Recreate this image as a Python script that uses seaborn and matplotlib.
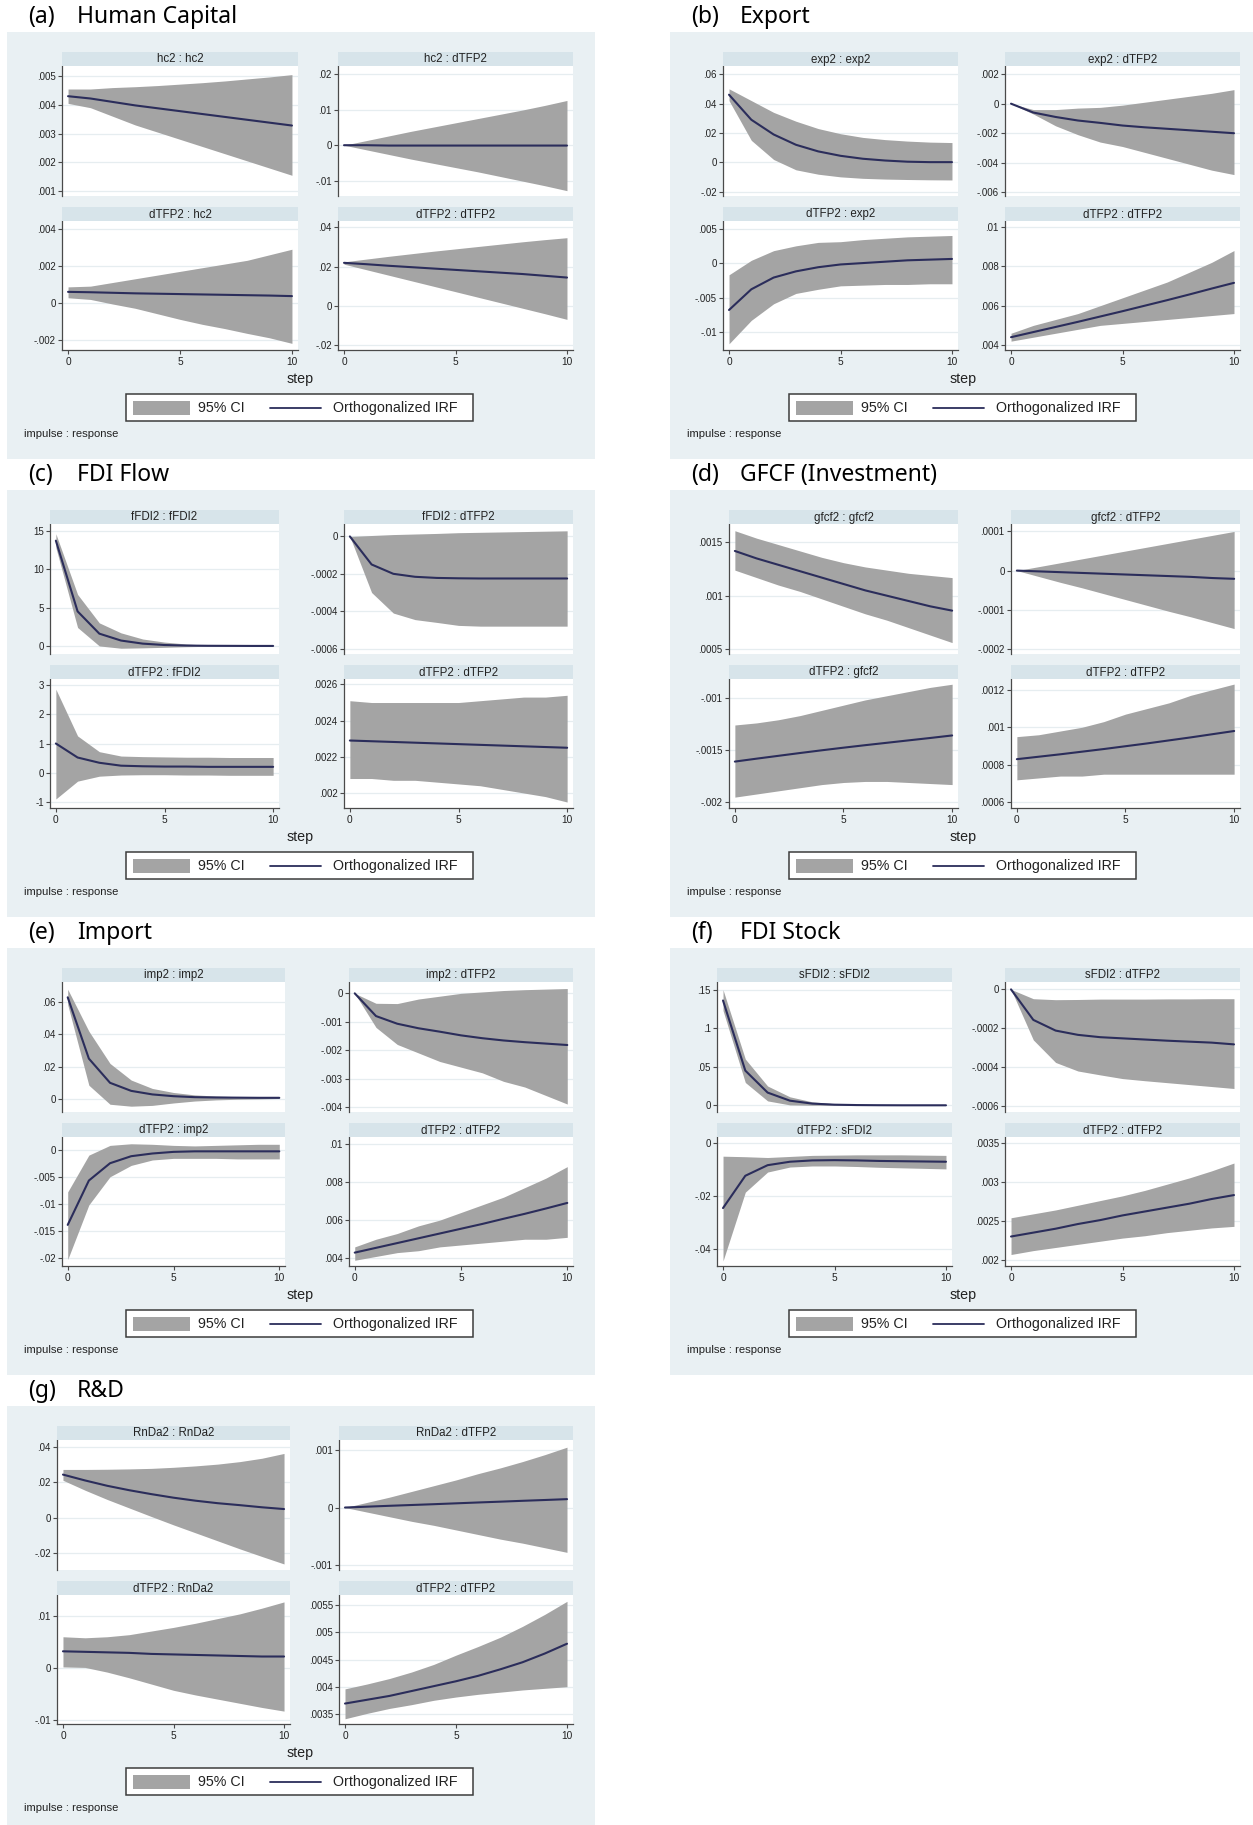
import numpy as np
import pandas as pd
import matplotlib
matplotlib.use("Agg")
import matplotlib.pyplot as plt
from matplotlib.patches import Rectangle
from matplotlib.lines import Line2D
import seaborn as sns

sns.set_theme(style="white")
plt.rcParams["font.family"] = ["Liberation Sans", "DejaVu Sans"]

STEPS = list(range(11))

# ---------------- (a) Human Capital ----------------
HC_HC_IRF = [.0043, .00422, .0041, .00398, .00388, .00378, .00368, .00358, .00348, .00338, .00328]
HC_HC_LO = [.00405, .0039, .0036, .0033, .00305, .0028, .00255, .0023, .00205, .0018, .00155]
HC_HC_HI = [.00455, .00455, .0046, .00463, .00467, .00472, .00477, .00483, .0049, .00497, .00505]
HC_TFP_IRF = [0, 0, -.0001, -.0001, -.0001, -.0001, -.0001, -.0001, -.0001, -.0001, -.0001]
HC_TFP_LO = [0, -.0013, -.0026, -.0039, -.0051, -.0063, -.0075, -.0088, -.0101, -.0114, -.0128]
HC_TFP_HI = [0, .0013, .0026, .0039, .0051, .0063, .0075, .0087, .0099, .0112, .0126]
TFP_HC_IRF = [.00059, .00057, .00054, .00051, .00049, .00047, .00045, .00043, .00041, .00039, .00036]
TFP_HC_LO = [.00027, .00018, -.00007, -.0003, -.0006, -.0009, -.00117, -.0014, -.00166, -.0019, -.0022]
TFP_HC_HI = [.00086, .0009, .0011, .0013, .0015, .0017, .0019, .0021, .0023, .0026, .0029]
TFP_TFP_A_IRF = [.0219, .0212, .0204, .0197, .019, .0183, .0176, .0169, .0162, .0153, .0144]
TFP_TFP_A_LO = [.0212, .0184, .0156, .0128, .01, .0072, .0044, .0016, -.0012, -.004, -.0069]
TFP_TFP_A_HI = [.0224, .0238, .0252, .0265, .0278, .029, .0302, .0314, .0326, .0337, .0347]

# ---------------- (b) Export ----------------
EXP_EXP_IRF = [.046, .029, .019, .012, .0075, .0045, .0025, .0013, .0005, .0002, .0002]
EXP_EXP_LO = [.042, .015, .002, -.005, -.008, -.0098, -.0108, -.0113, -.0116, -.0118, -.0119]
EXP_EXP_HI = [.050, .042, .034, .028, .023, .0195, .017, .0155, .0145, .0138, .0135]
EXP_TFP_IRF = [0, -.0006, -.0009, -.00114, -.0013, -.00148, -.0016, -.0017, -.0018, -.0019, -.002]
EXP_TFP_LO = [0, -.0007, -.0015, -.0021, -.0026, -.0029, -.0033, -.0037, -.0041, -.0045, -.0048]
EXP_TFP_HI = [0, -.0004, -.0004, -.0003, -.00025, -.0001, .0001, .0003, .0005, .0007, .00095]
TFP_EXP_IRF = [-.0068, -.0038, -.0021, -.0012, -.0006, -.0002, 0, .0002, .0004, .0005, .0006]
TFP_EXP_LO = [-.0117, -.0083, -.0059, -.0044, -.0038, -.0033, -.0032, -.0031, -.0031, -.003, -.003]
TFP_EXP_HI = [-.0017, .0004, .0018, .0025, .003, .0031, .0034, .0036, .0038, .0039, .004]
TFP_TFP_B_IRF = [.0044, .00466, .00492, .00518, .00545, .00572, .006, .00628, .00657, .00687, .00716]
TFP_TFP_B_LO = [.0042, .0044, .0046, .0048, .005, .0051, .0052, .0053, .0054, .0055, .0056]
TFP_TFP_B_HI = [.0046, .005, .0053, .0056, .006, .0064, .0068, .0072, .0077, .0082, .0088]

# ---------------- (c) FDI Flow ----------------
FFDI_FFDI_IRF = [13.7, 4.5, 1.6, 0.7, 0.3, 0.12, 0.05, 0.02, 0.01, 0, 0]
FFDI_FFDI_LO = [12.8, 2.4, 0, -0.3, -0.25, -0.18, -0.1, -0.05, -0.02, -0.01, 0]
FFDI_FFDI_HI = [14.6, 6.7, 3.0, 1.7, 0.9, 0.5, 0.25, 0.1, 0.05, 0.02, 0.01]
FFDI_TFP_IRF = [0, -.00015, -.0002, -.000216, -.000222, -.000224, -.000225, -.000225, -.000225, -.000225, -.000225]
FFDI_TFP_LO = [0, -.0003, -.00041, -.000445, -.00046, -.000476, -.00048, -.00048, -.00048, -.00048, -.00048]
FFDI_TFP_HI = [0, .000005, .00001, .000013, .000016, .00002, .000022, .000024, .000026, .000028, .00003]
TFP_FFDI_IRF = [1.0, 0.52, 0.34, 0.24, 0.22, 0.21, 0.21, 0.2, 0.2, 0.2, 0.2]
TFP_FFDI_LO = [-0.9, -0.29, -0.12, -0.08, -0.07, -0.07, -0.08, -0.08, -0.09, -0.09, -0.09]
TFP_FFDI_HI = [2.86, 1.26, 0.72, 0.57, 0.55, 0.54, 0.53, 0.53, 0.52, 0.52, 0.52]
TFP_TFP_C_IRF = [.00229, .002286, .002282, .002278, .002274, .00227, .002266, .002262, .002258, .002254, .00225]
TFP_TFP_C_LO = [.00208, .00208, .00207, .00207, .00206, .00205, .00204, .00202, .002, .00198, .00195]
TFP_TFP_C_HI = [.00251, .0025, .0025, .0025, .0025, .0025, .00251, .00252, .00253, .00253, .00254]

# ---------------- (d) GFCF (Investment) ----------------
GFCF_GFCF_IRF = [.00142, .00135, .00129, .00123, .00117, .00111, .00105, .001, .00095, .0009, .00086]
GFCF_GFCF_LO = [.00124, .00117, .0011, .00104, .00097, .0009, .00083, .00077, .0007, .00063, .00056]
GFCF_GFCF_HI = [.00161, .00154, .00148, .00142, .00136, .00131, .00127, .00124, .00121, .00119, .00117]
GFCF_TFP_IRF = [0, -.000002, -.000004, -.000006, -.000008, -.00001, -.000012, -.000014, -.000016, -.000019, -.000021]
GFCF_TFP_LO = [0, -.000015, -.00003, -.000044, -.000059, -.000074, -.000089, -.000104, -.000118, -.000133, -.000148]
GFCF_TFP_HI = [0, .00001, .00002, .00003, .00004, .00005, .00006, .00007, .00008, .00009, .0001]
TFP_GFCF_IRF = [-.00161, -.001582, -.001555, -.001528, -.001502, -.001477, -.001453, -.00143, -.001407, -.001384, -.00136]
TFP_GFCF_LO = [-.00195, -.00192, -.00189, -.00186, -.00183, -.00181, -.0018, -.0018, -.00181, -.00182, -.00183]
TFP_GFCF_HI = [-.00126, -.00124, -.00121, -.00117, -.00112, -.00107, -.00102, -.00098, -.00094, -.0009, -.00087]
TFP_TFP_D_IRF = [.00083, .000843, .000856, .00087, .000884, .000899, .000914, .00093, .000946, .000963, .00098]
TFP_TFP_D_LO = [.00072, .00073, .00074, .00074, .00075, .00075, .00075, .00075, .00075, .00075, .00075]
TFP_TFP_D_HI = [.00095, .00096, .00098, .001, .00103, .00107, .0011, .00113, .00117, .0012, .00123]

# ---------------- (e) Import ----------------
IMP_IMP_IRF = [.063, .025, .01, .005, .0028, .0017, .0011, .0009, .0008, .0007, .0007]
IMP_IMP_LO = [.0585, .0085, -.0033, -.0045, -.004, -.0025, -.0013, -.0006, -.0002, 0, .0003]
IMP_IMP_HI = [.068, .042, .022, .0117, .0065, .004, .0025, .0018, .0014, .0012, .001]
IMP_TFP_IRF = [0, -.0008, -.00107, -.00123, -.00135, -.00148, -.00158, -.00166, -.00172, -.00177, -.00182]
IMP_TFP_LO = [0, -.0012, -.0018, -.0021, -.0024, -.0026, -.0028, -.0031, -.0033, -.0036, -.0039]
IMP_TFP_HI = [0, -.00035, -.00036, -.0002, -.0001, 0, .00005, .0001, .00013, .00015, .00017]
TFP_IMP_IRF = [-.0138, -.0056, -.0024, -.0011, -.0006, -.0003, -.0002, -.0002, -.0002, -.0002, -.0002]
TFP_IMP_LO = [-.0202, -.0101, -.0049, -.0028, -.0018, -.0015, -.0015, -.0015, -.0016, -.0016, -.0016]
TFP_IMP_HI = [-.0077, -.0009, .0009, .0012, .0011, .0009, .0008, .0009, .001, .0011, .0011]
TFP_TFP_E_IRF = [.0043, .00455, .0048, .00505, .0053, .00555, .0058, .00607, .00633, .00661, .0069]
TFP_TFP_E_LO = [.0039, .0041, .0043, .0044, .0046, .0047, .0048, .0049, .005, .005, .0051]
TFP_TFP_E_HI = [.0046, .005, .0053, .0057, .006, .0064, .0068, .0072, .0077, .0082, .0088]

# ---------------- (f) FDI Stock ----------------
SFDI_SFDI_IRF = [.136, .045, .0165, .006, .0022, .0008, .0003, .0001, 0, 0, 0]
SFDI_SFDI_LO = [.123, .0296, .0057, .0005, 0, 0, 0, 0, 0, 0, 0]
SFDI_SFDI_HI = [.15, .06, .025, .011, .0045, .002, .001, .0005, .0002, .0001, .0001]
SFDI_TFP_IRF = [0, -.000157, -.000212, -.000234, -.000246, -.000252, -.000258, -.000264, -.000269, -.000274, -.000283]
SFDI_TFP_LO = [0, -.00026, -.000376, -.00042, -.00044, -.000459, -.00047, -.00048, -.00049, -.0005, -.00051]
SFDI_TFP_HI = [0, -.000048, -.000053, -.000052, -.00005, -.00005, -.00005, -.000049, -.000049, -.000048, -.000048]
TFP_SFDI_IRF = [-.0247, -.0125, -.0085, -.0072, -.0067, -.0066, -.0067, -.0069, -.007, -.0071, -.0072]
TFP_SFDI_LO = [-.0447, -.0187, -.0111, -.0092, -.0088, -.0088, -.009, -.0093, -.0095, -.0097, -.0099]
TFP_SFDI_HI = [-.0051, -.0053, -.0056, -.0052, -.0048, -.0047, -.0046, -.0046, -.0046, -.0047, -.0048]
TFP_TFP_F_IRF = [.0023, .00235, .0024, .00246, .00251, .00257, .00262, .00267, .00272, .00278, .00283]
TFP_TFP_F_LO = [.00207, .00212, .00216, .0022, .00224, .00228, .00231, .00235, .00238, .00241, .00243]
TFP_TFP_F_HI = [.00254, .00259, .00264, .0027, .00276, .00282, .00289, .00297, .00305, .00314, .00324]

# ---------------- (g) R&D ----------------
RND_RND_IRF = [.0243, .021, .018, .0155, .0133, .0113, .0096, .0082, .0071, .0059, .0049]
RND_RND_LO = [.0211, .0155, .0103, .0055, .0007, -.004, -.0085, -.013, -.0175, -.0218, -.026]
RND_RND_HI = [.0272, .0272, .0273, .0275, .0278, .0284, .0292, .0302, .0316, .0335, .0362]
RND_TFP_IRF = [0, .000015, .00003, .000044, .000058, .000073, .000088, .000102, .000117, .000131, .000146]
RND_TFP_LO = [0, -.00008, -.00016, -.00024, -.00031, -.00039, -.00047, -.00055, -.00062, -.0007, -.00078]
RND_TFP_HI = [0, .00009, .00018, .00028, .00038, .00048, .00059, .00069, .0008, .00092, .00105]
TFP_RND_IRF = [.0032, .0031, .003, .0029, .0027, .0026, .0025, .0024, .0023, .0022, .0022]
TFP_RND_LO = [.0002, .0001, -.0008, -.0019, -.0031, -.0043, -.0052, -.006, -.0068, -.0076, -.0083]
TFP_RND_HI = [.006, .0058, .006, .0064, .0071, .0078, .0086, .0095, .0104, .0115, .0127]
TFP_TFP_G_IRF = [.00369, .00376, .00383, .00392, .00401, .0041, .0042, .00432, .00445, .00461, .00479]
TFP_TFP_G_LO = [.00341, .00351, .0036, .00367, .00375, .00381, .00386, .0039, .00394, .00397, .004]
TFP_TFP_G_HI = [.00396, .00405, .00415, .00427, .00441, .00458, .00474, .00491, .00511, .00533, .00557]

# y-axis tick values of the four cells (top-left, top-right, bottom-left, bottom-right)
TICKS_A = [[.001, .002, .003, .004, .005], [-.01, 0, .01, .02], [-.002, 0, .002, .004], [-.02, 0, .02, .04]]
TICKS_B = [[-.02, 0, .02, .04, .06], [-.006, -.004, -.002, 0, .002], [-.01, -.005, 0, .005], [.004, .006, .008, .01]]
TICKS_C = [[0, 5, 10, 15], [-.0006, -.0004, -.0002, 0], [-1, 0, 1, 2, 3], [.002, .0022, .0024, .0026]]
TICKS_D = [[.0005, .001, .0015], [-.0002, -.0001, 0, .0001], [-.002, -.0015, -.001], [.0006, .0008, .001, .0012]]
TICKS_E = [[0, .02, .04, .06], [-.004, -.003, -.002, -.001, 0], [-.02, -.015, -.01, -.005, 0], [.004, .006, .008, .01]]
TICKS_F = [[0, .05, .1, .15], [-.0006, -.0004, -.0002, 0], [-.04, -.02, 0], [.002, .0025, .003, .0035]]
TICKS_G = [[-.02, 0, .02, .04], [-.001, 0, .001], [-.01, 0, .01], [.0035, .004, .0045, .005, .0055]]

X_TICKS = [0, 5, 10]
CI_LABEL = "95% CI"
IRF_LABEL = "Orthogonalized IRF"

PANELS = [
    dict(tag="(a)", name="Human Capital", var="hc2", ticks=TICKS_A,
         cells=[(HC_HC_IRF, HC_HC_LO, HC_HC_HI), (HC_TFP_IRF, HC_TFP_LO, HC_TFP_HI),
                (TFP_HC_IRF, TFP_HC_LO, TFP_HC_HI), (TFP_TFP_A_IRF, TFP_TFP_A_LO, TFP_TFP_A_HI)]),
    dict(tag="(b)", name="Export", var="exp2", ticks=TICKS_B,
         cells=[(EXP_EXP_IRF, EXP_EXP_LO, EXP_EXP_HI), (EXP_TFP_IRF, EXP_TFP_LO, EXP_TFP_HI),
                (TFP_EXP_IRF, TFP_EXP_LO, TFP_EXP_HI), (TFP_TFP_B_IRF, TFP_TFP_B_LO, TFP_TFP_B_HI)]),
    dict(tag="(c)", name="FDI Flow", var="fFDI2", ticks=TICKS_C,
         cells=[(FFDI_FFDI_IRF, FFDI_FFDI_LO, FFDI_FFDI_HI), (FFDI_TFP_IRF, FFDI_TFP_LO, FFDI_TFP_HI),
                (TFP_FFDI_IRF, TFP_FFDI_LO, TFP_FFDI_HI), (TFP_TFP_C_IRF, TFP_TFP_C_LO, TFP_TFP_C_HI)]),
    dict(tag="(d)", name="GFCF (Investment)", var="gfcf2", ticks=TICKS_D,
         cells=[(GFCF_GFCF_IRF, GFCF_GFCF_LO, GFCF_GFCF_HI), (GFCF_TFP_IRF, GFCF_TFP_LO, GFCF_TFP_HI),
                (TFP_GFCF_IRF, TFP_GFCF_LO, TFP_GFCF_HI), (TFP_TFP_D_IRF, TFP_TFP_D_LO, TFP_TFP_D_HI)]),
    dict(tag="(e)", name="Import", var="imp2", ticks=TICKS_E,
         cells=[(IMP_IMP_IRF, IMP_IMP_LO, IMP_IMP_HI), (IMP_TFP_IRF, IMP_TFP_LO, IMP_TFP_HI),
                (TFP_IMP_IRF, TFP_IMP_LO, TFP_IMP_HI), (TFP_TFP_E_IRF, TFP_TFP_E_LO, TFP_TFP_E_HI)]),
    dict(tag="(f)", name="FDI Stock", var="sFDI2", ticks=TICKS_F,
         cells=[(SFDI_SFDI_IRF, SFDI_SFDI_LO, SFDI_SFDI_HI), (SFDI_TFP_IRF, SFDI_TFP_LO, SFDI_TFP_HI),
                (TFP_SFDI_IRF, TFP_SFDI_LO, TFP_SFDI_HI), (TFP_TFP_F_IRF, TFP_TFP_F_LO, TFP_TFP_F_HI)]),
    dict(tag="(g)", name="R&D", var="RnDa2", ticks=TICKS_G,
         cells=[(RND_RND_IRF, RND_RND_LO, RND_RND_HI), (RND_TFP_IRF, RND_TFP_LO, RND_TFP_HI),
                (TFP_RND_IRF, TFP_RND_LO, TFP_RND_HI), (TFP_TFP_G_IRF, TFP_TFP_G_LO, TFP_TFP_G_HI)]),
]

# ---------------- layout (pixels) ----------------
W, H = 1253, 1825
# background box of each panel: left, top, right, bottom
BOXES = [(7, 32, 595, 459), (670, 32, 1253, 459),
         (7, 490, 595, 917), (670, 490, 1253, 917),
         (7, 948, 595, 1375), (670, 948, 1253, 1375),
         (7, 1406, 595, 1825)]
# plot columns (absolute x): left column x0,x1 ; right column x0,x1
COLS = [((62, 298), (338, 573)), ((723, 958), (1005, 1240)),
        ((50, 279), (344, 573)), ((729, 958), (1011, 1240)),
        ((62, 285), (349, 573)), ((717, 952), (1005, 1240)),
        ((57, 290), (339, 573))]
YLIMS = [
    [(.00083, .00535), (-.0143, .0223), (-.00256, .00443), (-.0225, .0432)],
    [(-.0228, .0655), (-.00625, .00255), (-.0126, .0061), (.00375, .0103)],
    [(-1.05, 15.87), (-.000629, .0000665), (-1.21, 3.21), (.001917, .00263)],
    [(.000453, .001673), (-.000213, .000119), (-.002054, -.00082), (.00057, .001257)],
    [(-.0081, .0725), (-.00418, .0004), (-.0214, .00245), (.0036, .01035)],
    [(-.0087, .16), (-.000631, .000038), (-.0466, .00215), (.001923, .003573)],
    [(-.0294, .04377), (-.001087, .001175), (-.01078, .01403), (.003314, .005686)],
]
STRIP_TOP, STRIP_H = 20, 14
ROW_Y = [(34, 164), (189, 318)]   # plot area top/bottom relative to box top

BG = "#e9f0f3"
STRIP = "#d7e4ea"
GRID = "#e6edf0"
CI_COLOR = "#a4a4a4"
LINE_COLOR = "#2b2d5b"
AXIS_COLOR = "#4a4a4a"
TEXT = "#222222"


def fig_rect(x0, y0, x1, y1):
    return [x0 / W, 1 - y1 / H, (x1 - x0) / W, (y1 - y0) / H]


def stata_fmt(v):
    if v == 0:
        return "0"
    s = np.format_float_positional(v, trim="-")
    return s.replace("0.", ".", 1) if abs(v) < 1 else s


fig = plt.figure(figsize=(W / 100, H / 100), dpi=100)
fig.patch.set_facecolor("white")

for p, box, cols, ylims in zip(PANELS, BOXES, COLS, YLIMS):
    bx0, by0, bx1, by1 = box
    fig.add_artist(Rectangle((bx0 / W, 1 - by1 / H), (bx1 - bx0) / W, (by1 - by0) / H,
                             transform=fig.transFigure, facecolor=BG, edgecolor="none", zorder=0))
    # panel heading
    fig.text((bx0 + 21) / W, 1 - (by0 - 15) / H, p["tag"], fontsize=16.5,
             family=["Noto Sans", "DejaVu Sans"], va="center", ha="left", color="black")
    fig.text((bx0 + 70) / W, 1 - (by0 - 15) / H, p["name"], fontsize=16.5,
             family=["Noto Sans", "DejaVu Sans"], va="center", ha="left", color="black")

    titles = [f"{p['var']} : {p['var']}", f"{p['var']} : dTFP2",
              f"dTFP2 : {p['var']}", "dTFP2 : dTFP2"]
    for k, (cell, ticks, ylim, title) in enumerate(zip(p["cells"], p["ticks"], ylims, titles)):
        r, c = divmod(k, 2)
        cx0, cx1 = cols[c]
        ry0, ry1 = ROW_Y[r]
        st_top = by0 + (STRIP_TOP if r == 0 else 175)
        # strip title
        fig.add_artist(Rectangle((cx0 / W, 1 - (st_top + STRIP_H) / H), (cx1 - cx0) / W, STRIP_H / H,
                                 transform=fig.transFigure, facecolor=STRIP, edgecolor="none", zorder=1))
        fig.text((cx0 + cx1) / 2 / W, 1 - (st_top + STRIP_H / 2 + 0.5) / H, title,
                 fontsize=8.3, ha="center", va="center", color=TEXT)

        ax = fig.add_axes(fig_rect(cx0, by0 + ry0, cx1, by0 + ry1))
        ax.set_facecolor("white")
        irf, lo, hi = cell
        df = pd.DataFrame({"step": STEPS, "irf": irf, "lo": lo, "hi": hi})
        ax.fill_between(df["step"], df["lo"], df["hi"], color=CI_COLOR, lw=0, zorder=2)
        sns.lineplot(data=df, x="step", y="irf", ax=ax, color=LINE_COLOR, lw=1.5, zorder=3)
        ax.set_xlim(-0.27, 10.27)
        ax.set_ylim(*ylim)
        ax.set_yticks(ticks)
        ax.set_yticklabels([stata_fmt(t) for t in ticks])
        ax.yaxis.grid(True, color=GRID, lw=0.9)
        ax.xaxis.grid(False)
        ax.set_axisbelow(True)
        ax.set_xlabel("")
        ax.set_ylabel("")
        for s in ["top", "right"]:
            ax.spines[s].set_visible(False)
        ax.spines["left"].set_color(AXIS_COLOR)
        ax.spines["left"].set_linewidth(0.9)
        ax.tick_params(axis="y", direction="out", length=3, width=0.8, color=AXIS_COLOR,
                       labelsize=7, pad=1.5, labelcolor=TEXT, left=True)
        if r == 0:
            ax.spines["bottom"].set_visible(False)
            ax.set_xticks([])
        else:
            ax.spines["bottom"].set_color(AXIS_COLOR)
            ax.spines["bottom"].set_linewidth(0.9)
            ax.set_xticks(X_TICKS)
            ax.set_xticklabels([str(t) for t in X_TICKS])
            ax.tick_params(axis="x", direction="out", length=3, width=0.8, color=AXIS_COLOR,
                           labelsize=7.3, pad=2, labelcolor=TEXT, bottom=True)

    # x-axis title
    fig.text((bx0 + 293) / W, 1 - (by0 + 347) / H, "step", fontsize=10.3, ha="center", va="center", color=TEXT)

    # legend box
    lx0, lx1 = bx0 + 119, bx0 + 466
    ly0, ly1 = by0 + 362, by0 + 389
    fig.add_artist(Rectangle((lx0 / W, 1 - ly1 / H), (lx1 - lx0) / W, (ly1 - ly0) / H,
                             transform=fig.transFigure, facecolor="white", edgecolor="#3c3c3c",
                             lw=1.1, zorder=2))
    fig.add_artist(Rectangle(((bx0 + 126) / W, 1 - (by0 + 383) / H), 57 / W, 14 / H,
                             transform=fig.transFigure, facecolor=CI_COLOR, edgecolor="none", zorder=3))
    fig.text((bx0 + 191) / W, 1 - (by0 + 376) / H, CI_LABEL, fontsize=10.3, ha="left", va="center",
             color=TEXT, zorder=3)
    fig.add_artist(Line2D([(bx0 + 263) / W, (bx0 + 314) / W], [1 - (by0 + 376) / H] * 2,
                          transform=fig.transFigure, color=LINE_COLOR, lw=1.3, zorder=3))
    fig.text((bx0 + 326) / W, 1 - (by0 + 376) / H, IRF_LABEL, fontsize=10.3, ha="left", va="center",
             color=TEXT, zorder=3)

    fig.text((bx0 + 17) / W, 1 - (by0 + 402) / H, "impulse : response", fontsize=8.1,
             ha="left", va="center", color=TEXT)

fig.savefig("out.png", dpi=100, facecolor="white")
